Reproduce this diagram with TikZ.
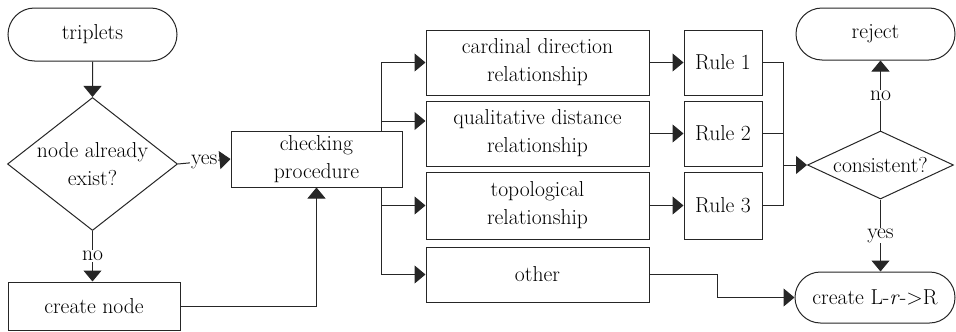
\documentclass[tikz,border=0pt]{standalone}
\usetikzlibrary{shapes.geometric,shapes.misc,arrows.meta}
\begin{document}
\begin{tikzpicture}[x=1pt,y=-1pt,
  every node/.style={font=\fontsize{21.6}{28}\selectfont, inner sep=0pt},
  ln/.style={line width=1pt, draw=black!85},
  arr/.style={ln, -{Triangle[length=11pt,width=18pt]}},
  box/.style={rectangle, ln, fill=white, align=center},
  term/.style={rounded rectangle, ln, fill=white},
  dia/.style={diamond, ln, fill=white},
  lbl/.style={fill=white, inner sep=1pt}]
\useasboundingbox (0,0) rectangle (956,332);
% nodes
\node[term, minimum width=169pt, minimum height=53pt] (trip) at (92.5,34.5) {triplets};
\node[dia, minimum width=170pt, minimum height=133pt] (nae) at (92.5,164) {};
\node[align=center] (naet) at (nae) {node already\\exist?};
\node[box, minimum width=172pt, minimum height=48pt] (cn) at (94,306) {create node};
\coordinate (tr) at (381,0);
\coordinate (jx) at (717,0);
\coordinate (mg) at (783,165);
\node[box, minimum width=171pt, minimum height=56pt] (chk) at (316.5,159) {checking\\procedure};
\node[box, minimum width=223pt, minimum height=65pt] (card) at (537.5,62.5) {cardinal direction\\relationship};
\node[box, minimum width=223pt, minimum height=65pt] (qual) at (537.5,133.5) {qualitative distance\\relationship};
\node[box, minimum width=223pt, minimum height=67pt] (topo) at (537.5,205.5) {topological\\relationship};
\node[box, minimum width=223pt, minimum height=55pt] (other) at (537.5,274.5) {other};
\node[box, minimum width=78pt, minimum height=65pt] (r1) at (723,62.5) {Rule 1};
\node[box, minimum width=78pt, minimum height=65pt] (r2) at (723,133.5) {Rule 2};
\node[box, minimum width=78pt, minimum height=67pt] (r3) at (723,205.5) {Rule 3};
\node[dia, minimum width=146pt, minimum height=68pt] (cons) at (880.5,165) {};
\node (const) at (cons) {consistent?};
\node[term, minimum width=159pt, minimum height=52pt] (rej) at (875.5,34) {reject};
\node[term, minimum width=160pt, minimum height=51pt] (crt) at (875,297.5) {create L-\textit{r}-{}>R};
% connectors
\draw[arr] (trip) -- (nae);
\draw[arr] (nae.east) -- node[lbl] {yes} (chk.west);
\draw[arr] (nae.south) -- node[lbl] {no} (cn.north -| nae.south);
\draw[arr] (cn.east) -| (chk.south);
\draw[arr] (chk.north -| tr) |- (card.west);
\draw[arr] (chk.north -| tr) |- ([yshift=12.5pt]qual.west);
\draw[arr] (chk.south -| tr) |- (topo.west);
\draw[arr] (chk.south -| tr) |- (other.west);
\draw[arr] (card.east) -- (r1.west);
\draw[arr] (qual.east) -- (r2.west);
\draw[arr] (topo.east) -- (r3.west);
\draw[ln] (r1.east) -| (mg);
\draw[ln] (r2.east) -| (mg);
\draw[ln] (r3.east) -| (mg);
\draw[arr] (mg) -- (cons.west);
\draw[arr] (cons.north) -- node[lbl] {no} (cons.north |- rej.south);
\draw[arr] (cons.south) -- node[lbl] {yes} (cons.south |- crt.north);
\draw[arr] (other.east) -- (other.east -| jx) |- (crt.west);
\end{tikzpicture}
\end{document}
